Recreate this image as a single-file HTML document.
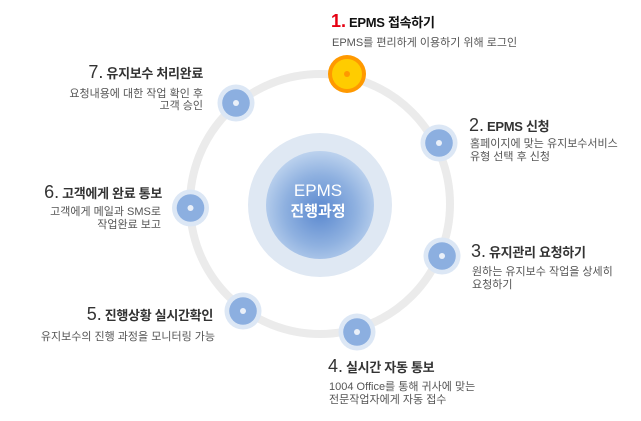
<!DOCTYPE html>
<html>
<head>
<meta charset="utf-8">
<style>
html,body{margin:0;padding:0;background:#fff;}
svg{display:block;}
text{font-family:"Liberation Sans","Noto Sans CJK KR",sans-serif;}
.num{font-size:18px;fill:#333;}
.tt{font-size:13px;fill:#333;font-weight:bold;letter-spacing:-0.3px;}
.st{font-size:11px;fill:#555;letter-spacing:0px;}
</style>
</head>
<body>
<svg width="641" height="421" viewBox="0 0 641 421" xmlns="http://www.w3.org/2000/svg">
<defs>
<radialGradient id="cg" cx="50%" cy="55%" r="55%">
<stop offset="0%" stop-color="#5a88cf"/>
<stop offset="60%" stop-color="#8fb1e0"/>
<stop offset="100%" stop-color="#bcd2ee"/>
</radialGradient>
</defs>
<!-- ring -->
<circle cx="320" cy="204" r="130" fill="none" stroke="#ebebeb" stroke-width="8"/>
<!-- center -->
<circle cx="320" cy="205" r="72" fill="#dfe8f3"/>
<circle cx="320" cy="205" r="54" fill="url(#cg)"/>
<text x="318" y="196" text-anchor="middle" font-size="17" fill="#fff">EPMS</text>
<text x="318" y="216" text-anchor="middle" font-size="15" fill="#fff" font-weight="bold">진행과정</text>

<!-- node 1 -->
<circle cx="347" cy="74" r="19" fill="#ff9900"/>
<circle cx="347" cy="74" r="15" fill="#ffcc00"/>
<circle cx="347" cy="74" r="3" fill="#ff9900"/>

<!-- blue nodes -->
<g>
<circle cx="439" cy="143" r="18.5" fill="#dce7f5"/><circle cx="439" cy="143" r="13.8" fill="#8cafe0"/><circle cx="439" cy="143" r="3" fill="#eaf0f9"/>
<circle cx="442" cy="256" r="18.5" fill="#dce7f5"/><circle cx="442" cy="256" r="13.8" fill="#8cafe0"/><circle cx="442" cy="256" r="3" fill="#eaf0f9"/>
<circle cx="357" cy="332" r="18.5" fill="#dce7f5"/><circle cx="357" cy="332" r="13.8" fill="#8cafe0"/><circle cx="357" cy="332" r="3" fill="#eaf0f9"/>
<circle cx="243" cy="311" r="18.5" fill="#dce7f5"/><circle cx="243" cy="311" r="13.8" fill="#8cafe0"/><circle cx="243" cy="311" r="3" fill="#eaf0f9"/>
<circle cx="190.5" cy="208" r="18.5" fill="#dce7f5"/><circle cx="190.5" cy="208" r="13.8" fill="#8cafe0"/><circle cx="190.5" cy="208" r="3" fill="#eaf0f9"/>
<circle cx="236" cy="103" r="18.5" fill="#dce7f5"/><circle cx="236" cy="103" r="13.8" fill="#8cafe0"/><circle cx="236" cy="103" r="3" fill="#eaf0f9"/>
</g>

<!-- text 1 -->
<text x="331" y="27"><tspan class="num" style="fill:#e60012;font-weight:bold">1.</tspan><tspan class="tt" style="fill:#111" dx="3">EPMS 접속하기</tspan></text>
<text class="st" x="332" y="46">EPMS를 편리하게 이용하기 위해 로그인</text>

<!-- text 2 -->
<text x="469" y="131"><tspan class="num">2.</tspan><tspan class="tt" dx="3">EPMS 신청</tspan></text>
<text class="st" x="470" y="147">홈페이지에 맞는 유지보수서비스</text>
<text class="st" x="470" y="160">유형 선택 후 신청</text>

<!-- text 3 -->
<text x="471" y="257"><tspan class="num">3.</tspan><tspan class="tt" dx="3">유지관리 요청하기</tspan></text>
<text class="st" x="472" y="275">원하는 유지보수 작업을 상세히</text>
<text class="st" x="472" y="288">요청하기</text>

<!-- text 4 -->
<text x="328" y="372"><tspan class="num">4.</tspan><tspan class="tt" dx="3">실시간 자동 통보</tspan></text>
<text class="st" x="329" y="390">1004 Office를 통해 귀사에 맞는</text>
<text class="st" x="329" y="403">전문작업자에게 자동 접수</text>

<!-- text 5 -->
<text x="213" y="320" text-anchor="end"><tspan class="num">5.</tspan><tspan class="tt" dx="3">진행상황 실시간확인</tspan></text>
<text class="st" x="215" y="340" text-anchor="end">유지보수의 진행 과정을 모니터링 가능</text>

<!-- text 6 -->
<text x="162" y="198" text-anchor="end"><tspan class="num">6.</tspan><tspan class="tt" dx="3">고객에게 완료 통보</tspan></text>
<text class="st" x="161" y="215" text-anchor="end">고객에게 메일과 SMS로</text>
<text class="st" x="161" y="228" text-anchor="end">작업완료 보고</text>

<!-- text 7 -->
<text x="203" y="78" text-anchor="end"><tspan class="num">7.</tspan><tspan class="tt" dx="3">유지보수 처리완료</tspan></text>
<text class="st" x="203" y="97" text-anchor="end">요청내용에 대한 작업 확인 후</text>
<text class="st" x="203" y="109" text-anchor="end">고객 승인</text>
</svg>
</body>
</html>
